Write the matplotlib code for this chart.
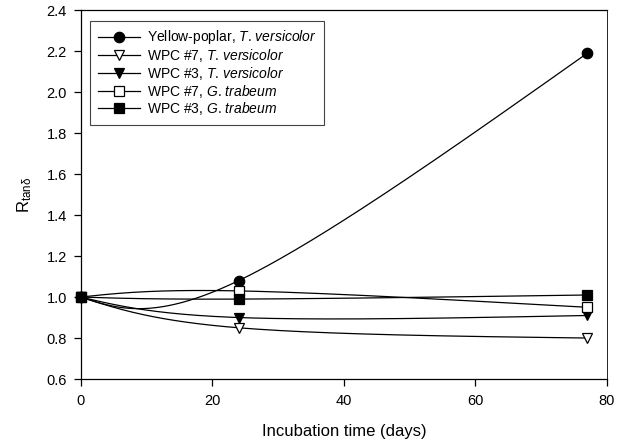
import numpy as np
import matplotlib.pyplot as plt
from matplotlib.lines import Line2D

plt.rcParams['font.family'] = ['Liberation Sans', 'DejaVu Sans']
plt.rcParams['mathtext.fontset'] = 'custom'
plt.rcParams['mathtext.rm'] = 'Liberation Sans'
plt.rcParams['mathtext.it'] = 'Liberation Sans:italic'

days = [0, 24, 77]
yellow_poplar_tv = [1.0, 1.08, 2.19]
wpc7_tv = [1.0, 0.85, 0.80]
wpc3_tv = [1.0, 0.90, 0.91]
wpc7_gt = [1.0, 1.03, 0.95]
wpc3_gt = [1.0, 0.99, 1.01]

labels = [
    r'Yellow-poplar, $\it{T}$. $\it{versicolor}$',
    r'WPC #7, $\it{T}$. $\it{versicolor}$',
    r'WPC #3, $\it{T}$. $\it{versicolor}$',
    r'WPC #7, $\it{G}$. $\it{trabeum}$',
    r'WPC #3, $\it{G}$. $\it{trabeum}$',
]
series = [yellow_poplar_tv, wpc7_tv, wpc3_tv, wpc7_gt, wpc3_gt]
markers = ['o', 'v', 'v', 's', 's']
faces = ['k', 'white', 'k', 'white', 'k']
sizes = [7.5, 7, 7, 6.5, 6.5]


def natural_spline(t, v, n=80):
    t = np.asarray(t, float)
    v = np.asarray(v, float)
    h = np.diff(t)
    k = len(t)
    A = np.zeros((k, k))
    b = np.zeros(k)
    A[0, 0] = A[-1, -1] = 1
    for i in range(1, k - 1):
        A[i, i - 1] = h[i - 1]
        A[i, i] = 2 * (h[i - 1] + h[i])
        A[i, i + 1] = h[i]
        b[i] = 6 * ((v[i + 1] - v[i]) / h[i] - (v[i] - v[i - 1]) / h[i - 1])
    M = np.linalg.solve(A, b)
    out = []
    for i in range(k - 1):
        s = np.linspace(t[i], t[i + 1], n, endpoint=(i == k - 2))
        a = (t[i + 1] - s) / h[i]
        c = (s - t[i]) / h[i]
        out.append(a * v[i] + c * v[i + 1]
                   + ((a ** 3 - a) * M[i] + (c ** 3 - c) * M[i + 1]) * h[i] ** 2 / 6)
    return np.concatenate(out)


def smooth(x, y):
    # parametric spline, uniform parameter
    t = np.arange(len(x))
    return natural_spline(t, x), natural_spline(t, y)


fig = plt.figure(figsize=(6.21, 4.42), dpi=100)
ax = fig.add_axes([0.13, 0.1425, 0.8475, 0.8345])

handles = []
for vals, lab, m, fc, ms in zip(series, labels, markers, faces, sizes):
    xs, ys = smooth(days, vals)
    ax.plot(xs, ys, color='k', lw=0.9, zorder=2)
    ax.plot(days, vals, ls='none', marker=m, ms=ms, mfc=fc, mec='k',
            mew=0.9, zorder=3, clip_on=False)
    handles.append(Line2D([], [], color='k', lw=0.9, marker=m, ms=ms,
                          mfc=fc, mec='k', mew=0.9, label=lab))

ax.set_xlim(0, 80)
ax.set_ylim(0.6, 2.4)
ax.set_xticks([0, 20, 40, 60, 80])
ax.set_yticks(np.arange(0.6, 2.41, 0.2))
ax.set_yticklabels([f'{v:.1f}' for v in np.arange(0.6, 2.41, 0.2)])
ax.tick_params(direction='out', length=5, width=0.9, labelsize=10.5,
               colors='k', pad=5)
ax.tick_params(axis='x', pad=6)
for sp in ax.spines.values():
    sp.set_linewidth(0.9)
ax.spines['right'].set_linewidth(0.6)

ax.set_xlabel('Incubation time (days)', fontsize=12, labelpad=11)
ax.set_ylabel(r'R$_{\mathregular{tan\delta}}$', fontsize=12, labelpad=9)

leg = ax.legend(handles=handles, loc='upper left', bbox_to_anchor=(0.005, 0.99),
                fontsize=10, handlelength=3.0, handletextpad=0.5,
                labelspacing=0.05, borderpad=0.55, fancybox=False,
                edgecolor='#444444', framealpha=1)
leg.get_frame().set_linewidth(0.8)

fig.savefig('out.png', dpi=100)
